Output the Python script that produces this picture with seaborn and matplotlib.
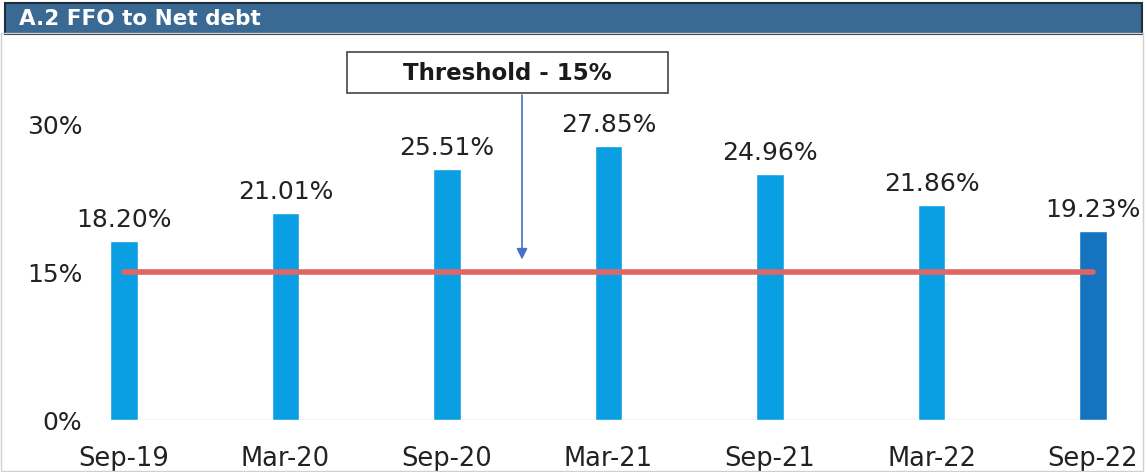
import matplotlib
matplotlib.use("Agg")
import matplotlib.pyplot as plt
from matplotlib.patches import Rectangle
import seaborn as sns
import pandas as pd

periods = ["Sep-19", "Mar-20", "Sep-20", "Mar-21", "Sep-21", "Mar-22", "Sep-22"]
ffo_to_net_debt = [18.20, 21.01, 25.51, 27.85, 24.96, 21.86, 19.23]
threshold = 15.0
y_ticks = [0, 15, 30]

bar_colors = ["#0a9fe3"] * 6 + ["#1573bf"]

sns.set_theme(style="white")
plt.rcParams["font.family"] = ["DejaVu Sans"]

W, H = 1145, 472
fig = plt.figure(figsize=(W / 100, H / 100), dpi=100)

# Title band across the top
fig.patches.append(Rectangle((5 / W, 1 - 34 / H), 1137 / W, 31 / H,
                             transform=fig.transFigure, facecolor="#3a6994",
                             edgecolor="#1e2d3a", linewidth=1.5, zorder=0))
fig.text(19 / W, 1 - 19 / H, "A.2 FFO to Net debt", color="white",
         fontsize=15.5, fontweight="bold", va="center", ha="left")
# thin frame around the panel
fig.patches.append(Rectangle((1 / W, 1 / H), (W - 3) / W, 1 - 34 / H,
                             transform=fig.transFigure, facecolor="none",
                             edgecolor="#d0d0d0", linewidth=1, zorder=0))

ax_left, ax_right = 95, 1130
ax_bottom, ax_top = 420, 75
ax = fig.add_axes([ax_left / W, 1 - ax_bottom / H,
                   (ax_right - ax_left) / W, (ax_bottom - ax_top) / H])

df = pd.DataFrame({"period": periods, "value": ffo_to_net_debt})
sns.barplot(data=df, x="period", y="value", hue="period", palette=bar_colors,
            legend=False, width=0.17, ax=ax, saturation=1, zorder=2)

px = 161.5
ax.set_xlim(-(124 - ax_left) / px, 6 + (ax_right - 1093) / px)
ax.set_ylim(0, (ax_bottom - ax_top) / 9.85)

# Threshold line
sns.lineplot(x=list(range(len(periods))), y=[threshold] * len(periods), ax=ax,
             color="#e06666", linewidth=4, solid_capstyle="round", zorder=3)

# Baseline
ax.hlines(0, -0.09, 6.09, color="#c8c8c8", linewidth=1, zorder=1)

for i, v in enumerate(ffo_to_net_debt):
    ax.text(i, v + 0.9, f"{v:.2f}%", ha="center", va="bottom",
            fontsize=18, color="#222222")

ax.set_yticks(y_ticks)
ax.set_yticklabels([f"{t}%" for t in y_ticks], fontsize=18, color="#222222")
ax.set_xticks(range(len(periods)))
ax.set_xticklabels(periods, fontsize=18.5, color="#222222")
ax.tick_params(axis="both", length=0)
ax.tick_params(axis="y", pad=9)
ax.tick_params(axis="x", pad=19)
ax.set_xlabel("")
ax.set_ylabel("")
for s in ax.spines.values():
    s.set_visible(False)

# Threshold callout: box, label and arrow
fig.patches.append(Rectangle((347 / W, 1 - 93 / H), 321 / W, 41 / H,
                             transform=fig.transFigure, facecolor="white",
                             edgecolor="#444444", linewidth=1.2, zorder=3))
fig.text(507 / W, 1 - 73 / H, "Threshold - 15%", ha="center", va="center",
         fontsize=16.5, fontweight="bold", color="#1a1a1a", zorder=4)
arrow_x = (522 - 124) / px
ax.annotate("", xy=(arrow_x, 16.3), xytext=(arrow_x, (ax_bottom - 95) / 9.85),
            arrowprops=dict(arrowstyle="-|>", color="#4472c4", lw=1.2,
                            mutation_scale=16, shrinkA=0, shrinkB=0),
            annotation_clip=False, zorder=4)

fig.savefig("out.png", dpi=100)
